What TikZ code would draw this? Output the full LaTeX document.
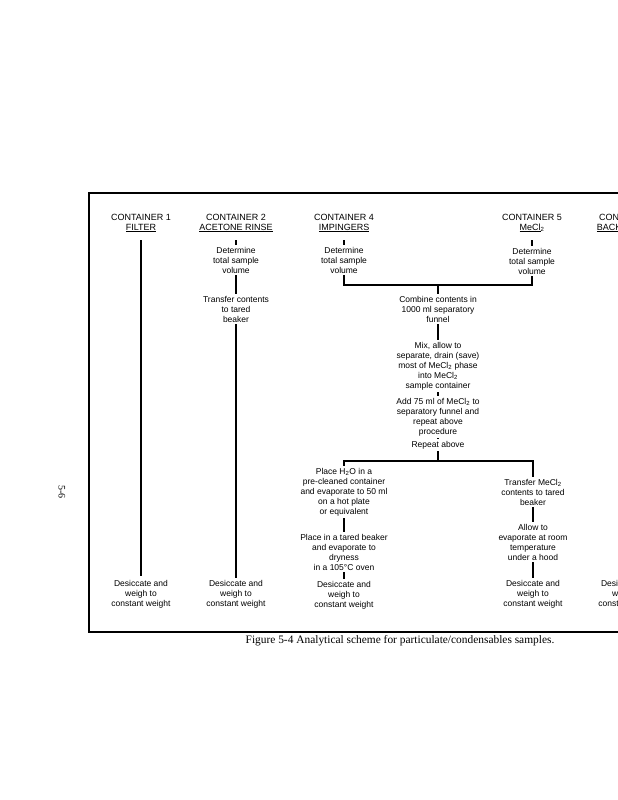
\documentclass[tikz,border=0pt]{standalone}
\usepackage{fontspec}
\setmainfont{Liberation Serif}
\newfontfamily\schemefont{Liberation Sans}

\begin{document}
\begin{tikzpicture}[x=1pt,y=-1pt,
  stepbox/.style={font=\schemefont\fontsize{8.5}{10}\selectfont, align=center, inner sep=2pt},
  headbox/.style={font=\schemefont\fontsize{9}{10}\selectfont, align=center, inner sep=2pt},
  flow/.style={line width=1.3pt},
  hdflow/.style={flow, shorten <=6pt},
  framerule/.style={line width=2.2pt}]
\useasboundingbox (0,0) rectangle (618,800);
\clip (0,0) rectangle (618,800);
% frame of the figure (page is cut on the right)
\draw[framerule] (640,193) -- (89,193) -- (89,632) -- (640,632);
% container headers
\node[headbox] (hA) at (141,223) {CONTAINER 1\\\underline{FILTER}};
\node[headbox] (hB) at (236,223) {CONTAINER 2\\\underline{ACETONE RINSE}};
\node[headbox] (hD) at (344,223) {CONTAINER 4\\\underline{IMPINGERS}};
\node[headbox] (hE) at (532,223) {CONTAINER 5\\\underline{MeCl}\textsubscript{2}};
\node[headbox] (hF) at (629,223) {CONTAINER 6\\\underline{BACKGROUND}};
% container 1
\node[stepbox] (dsA) at (141,594) {Desiccate and\\weigh to\\constant weight};
\draw[hdflow, shorten >=2pt] (hA) -- (dsA);
% container 2
\node[stepbox] (dvB) at (236,260) {Determine\\total sample\\volume};
\node[stepbox] (trB) at (236,309) {Transfer contents\\to tared\\beaker};
\node[stepbox] (dsB) at (236,594) {Desiccate and\\weigh to\\constant weight};
\draw[hdflow] (hB) -- (dvB);
\draw[flow] (dvB) -- (trB);
\draw[flow] (trB) -- (dsB);
% containers 4 and 5
\node[stepbox] (dvD) at (344,260) {Determine\\total sample\\volume};
\node[stepbox] (dvE) at (532,261) {Determine\\total sample\\volume};
\draw[hdflow] (hD) -- (dvD);
\draw[hdflow] (hE) -- (dvE);
\coordinate (mergeA) at (438,285);
\draw[flow] (dvD.south) |- (mergeA) -| (dvE.south);
\node[stepbox] (comb) at (438,309) {Combine contents in\\1000 ml separatory\\funnel};
\node[stepbox] (mix) at (438,366) {Mix, allow to\\separate, drain (save)\\most of MeCl\textsubscript{2} phase\\into MeCl\textsubscript{2}\\sample container};
\node[stepbox] (addm) at (438,417) {Add 75 ml of MeCl\textsubscript{2} to\\separatory funnel and\\repeat above\\procedure};
\node[stepbox] (rep) at (438,445) {Repeat above};
\draw[flow] (mergeA) -- (comb);
\draw[flow] (comb) -- (mix);
\draw[flow] (mix) -- (addm);
\draw[flow] (addm) -- (rep);
\coordinate (splitA) at (438,461);
\draw[flow] (rep) -- (splitA);
% water branch
\node[stepbox] (pw) at (344,492) {Place H\textsubscript{2}O in a\\pre-cleaned container\\and evaporate to 50 ml\\on a hot plate\\or equivalent};
\node[stepbox] (pb) at (344,552) {Place in a tared beaker\\and evaporate to\\dryness\\in a 105\textdegree C oven};
\node[stepbox] (dsD) at (344,595) {Desiccate and\\weigh to\\constant weight};
% MeCl2 branch
\node[stepbox] (tm) at (533,492) {Transfer MeCl\textsubscript{2}\\contents to tared\\beaker};
\node[stepbox] (ev) at (533,542) {Allow to\\evaporate at room\\temperature\\under a hood};
\node[stepbox] (dsE) at (533,594) {Desiccate and\\weigh to\\constant weight};
\draw[flow] (pw.north) |- (splitA) -| (tm.north);
\draw[flow] (pw) -- (pb);
\draw[flow] (pb) -- (dsD);
\draw[flow] (tm) -- (ev);
\draw[flow] (ev) -- (dsE);
% container 6 (cut off)
\node[stepbox] (dsF) at (628,594) {Desiccate and\\weigh to\\constant weight};
% caption and page number
\node[font=\fontsize{11.4}{13}\selectfont] (cap) at (400,641) {Figure 5-4 Analytical scheme for particulate/condensables samples.};
\node[font=\fontsize{10}{12}\selectfont, rotate=-90] (pg) at (62,492) {5-6};
\end{tikzpicture}
\end{document}
